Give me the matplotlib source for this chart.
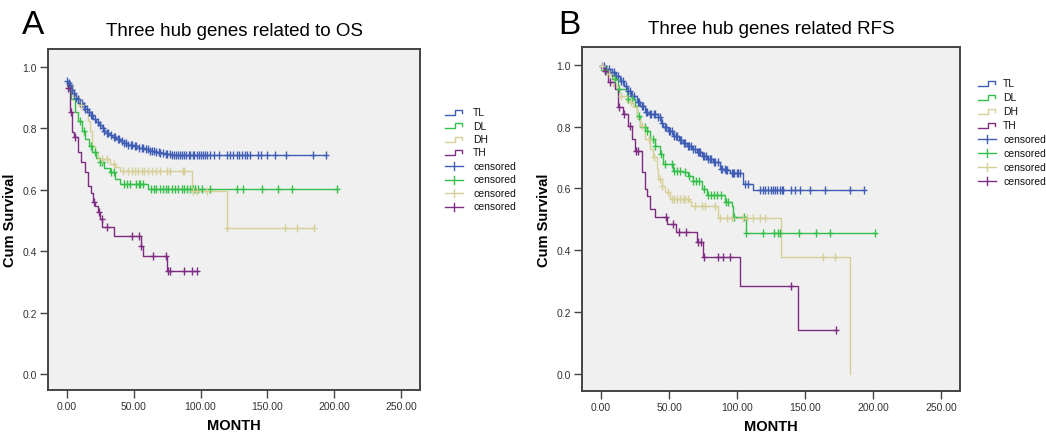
import numpy as np
import matplotlib
matplotlib.use("Agg")
import matplotlib.pyplot as plt
from matplotlib.lines import Line2D
from matplotlib.ticker import FormatStrFormatter

plt.rcParams['font.family'] = ['Liberation Sans', 'DejaVu Sans']

groups = ["TL", "DL", "DH", "TH"]
colors = {"TL": "#3f5db5", "DL": "#34bf48", "DH": "#d6cf98", "TH": "#7e2c82"}

# ---------------- Panel A: OS ----------------
os_TL_t = [0, 1, 2, 3, 4, 5, 6, 7, 8, 9, 10, 12, 14, 16, 18, 20, 22, 24, 26, 28, 30, 32, 34, 37, 40, 43, 46, 50, 54, 58, 62, 66, 70, 74, 78]
os_TL_s = [.955, .948, .94, .932, .924, .916, .908, .9, .894, .888, .882, .872, .862, .853, .842, .83, .82, .81, .8, .792, .785, .778, .772, .764, .757, .752, .747, .742, .737, .732, .727, .723, .72, .716, .712]
os_TL_end = 194
os_TL_c = [0.5, 1.5, 2.5, 4, 5.5, 7, 8.5, 10, 11.5, 13, 14, 15, 17, 18, 19, 21, 23, 25, 27, 28, 30, 31, 33, 35, 36, 38, 39, 41, 43, 44, 46, 48, 49, 51, 52, 54, 56, 57, 59, 61, 62, 64, 65, 67, 69, 70, 72, 74, 75, 77, 79, 80, 82, 83, 85, 86, 88, 89, 91, 92, 94, 95, 97, 99, 100, 102, 103, 105, 107, 110, 114, 120, 122, 124, 127, 129, 131, 133, 135, 137, 143, 145, 150, 156, 164, 184, 194]

os_DL_t = [0, 1.5, 3.5, 6, 8.5, 11.5, 14, 16.5, 19, 22, 25, 28, 32, 36, 40, 61]
os_DL_s = [.937, .925, .896, .853, .825, .79, .765, .743, .722, .703, .69, .672, .657, .635, .619, .601]
os_DL_end = 202
os_DL_c = [10, 13, 18, 21, 25, 26, 33, 35, 43, 45, 47, 52, 54, 55, 57, 63, 65, 67, 70, 72, 74, 76, 79, 81, 83, 86, 88, 90, 92, 94, 96, 98, 101, 107, 127, 132, 146, 158, 168, 202]

os_DH_t = [0, 4.5, 9, 13, 16, 17.5, 19, 21, 23, 32, 36, 40, 93.5, 119.5]
os_DH_s = [.94, .906, .875, .857, .824, .79, .743, .723, .70, .684, .674, .660, .595, .476]
os_DH_end = 185
os_DH_c = [11, 26, 30, 35, 42, 46, 49, 51, 53, 56, 58, 61, 64, 67, 70, 75, 77, 87, 88, 94, 97, 105, 120, 163, 172, 185]

os_TH_t = [0, 2.5, 3.7, 5.2, 8.5, 11, 13.5, 16, 18, 19.8, 21, 23.5, 25, 26.5, 35, 55.5, 57, 75]
os_TH_s = [.93, .852, .788, .77, .722, .69, .657, .613, .59, .56, .548, .527, .505, .478, .45, .418, .385, .336]
os_TH_end = 97
os_TH_c = [1, 3.5, 6, 20.5, 24, 26, 30, 48.5, 54, 55.8, 64.5, 74, 75.5, 77, 87.5, 93.5, 97]

# ---------------- Panel B: RFS ----------------
rfs_TL_t = [0, 3, 6.6, 10, 14, 17, 19, 22, 26.5, 29, 32.5, 35, 42, 44, 45.8, 49, 53, 57, 60, 63, 67, 70.6, 74, 78, 82.5, 87.5, 92, 95, 104.6, 112]
rfs_TL_s = [.997, .985, .976, .962, .947, .93, .915, .897, .879, .865, .847, .84, .83, .812, .798, .785, .77, .757, .747, .737, .728, .718, .706, .695, .685, .663, .658, .651, .614, .595]
rfs_TL_end = 193.5
rfs_TL_c = [1, 2.5, 4, 5.5, 8, 9.5, 11, 12.5, 15, 16, 18, 20, 21, 23, 24.5, 27, 28, 30, 31, 33, 34, 36, 37, 39, 40, 42, 43, 45, 47, 48, 50, 51, 52, 54, 55, 56, 58, 59, 61, 62, 64, 65, 66, 68, 69, 71, 72, 73, 75, 76, 77, 79, 80, 81, 83, 84, 86, 88, 89, 91, 92, 93, 96, 97, 98, 100, 101, 102, 106, 108, 117, 119, 120.6, 123, 125, 126.5, 128, 129.4, 131.6, 133, 134, 140, 142.6, 146, 153.7, 164.7, 183, 193.5]

rfs_DL_t = [0, 4, 8, 12.5, 19, 25, 26.5, 28.7, 33.5, 36, 39.7, 43.4, 45.6, 53, 60, 64, 67.6, 74, 78, 91, 96, 97, 106.4]
rfs_DL_s = [.983, .97, .954, .921, .889, .867, .834, .798, .786, .76, .737, .711, .679, .656, .653, .64, .624, .598, .578, .556, .543, .507, .457]
rfs_DL_end = 201.5
rfs_DL_c = [3, 10, 13, 20, 23, 28, 32, 34, 38, 40, 44, 47, 52, 54, 56, 58, 62, 65, 68, 70, 72, 76, 79, 81, 83, 85, 88, 92, 93.5, 97.5, 105, 106.4, 119, 127, 130, 131.6, 145.6, 158, 168.4, 201.5]

rfs_DH_t = [0, 4.4, 9, 12.5, 19, 23.5, 26.5, 28.7, 32.5, 36, 38, 41, 42, 44.5, 47, 50.7, 65, 66.5, 86, 132, 183]
rfs_DH_s = [.997, .97, .932, .9, .879, .863, .824, .802, .76, .727, .70, .663, .63, .608, .588, .566, .56, .544, .503, .378, 0.0]
rfs_DH_end = 183
rfs_DH_c = [1, 6, 15, 22, 30, 35, 39, 43, 45, 49, 52, 54, 56, 58, 60, 62, 64, 69, 74, 76.5, 84, 87.5, 92.6, 96, 104.6, 107, 112, 117, 120.6, 163, 172]

rfs_TH_t = [0, 1.5, 5, 10, 12.5, 16, 20, 23, 25, 30, 32.5, 33.8, 36, 39.7, 48.5, 55, 70.6, 75, 102, 145]
rfs_TH_s = [.99, .98, .943, .92, .862, .841, .803, .76, .72, .652, .597, .576, .533, .507, .485, .459, .426, .378, .284, .142]
rfs_TH_end = 172.8
rfs_TH_c = [3, 6.6, 13, 17, 21, 26, 27, 48, 53, 57.6, 62.5, 71, 73.5, 76, 86, 90, 95, 140, 172.8]

os_data = {
    "TL": (os_TL_t, os_TL_s, os_TL_end, os_TL_c),
    "DL": (os_DL_t, os_DL_s, os_DL_end, os_DL_c),
    "DH": (os_DH_t, os_DH_s, os_DH_end, os_DH_c),
    "TH": (os_TH_t, os_TH_s, os_TH_end, os_TH_c),
}
rfs_data = {
    "TL": (rfs_TL_t, rfs_TL_s, rfs_TL_end, rfs_TL_c),
    "DL": (rfs_DL_t, rfs_DL_s, rfs_DL_end, rfs_DL_c),
    "DH": (rfs_DH_t, rfs_DH_s, rfs_DH_end, rfs_DH_c),
    "TH": (rfs_TH_t, rfs_TH_s, rfs_TH_end, rfs_TH_c),
}

x_ticks = [0, 50, 100, 150, 200, 250]
y_ticks = [0.0, 0.2, 0.4, 0.6, 0.8, 1.0]

W, H = 1046, 435
fig = plt.figure(figsize=(W / 100, H / 100), dpi=100)


def px_axes(x0, y0, x1, y1):
    return fig.add_axes([x0 / W, 1 - y1 / H, (x1 - x0) / W, (y1 - y0) / H])


def draw_panel(ax, data):
    ax.set_facecolor("#f0f0f0")
    for g in groups:
        t, s, end, cens = data[g]
        t = np.asarray(t, float)
        s = np.asarray(s, float)
        tt = np.append(t, end)
        ss = np.append(s, s[-1])
        ax.step(tt, ss, where="post", color=colors[g], lw=1.0, zorder=3)
        c = np.asarray(cens, float)
        idx = np.searchsorted(t, c, side="right") - 1
        ax.plot(c, s[idx], ls="none", marker="|", ms=6, mew=1.0,
                color=colors[g], zorder=4)
        ax.plot(c, s[idx], ls="none", marker="_", ms=4, mew=1.0,
                color=colors[g], zorder=4)
    ax.set_xlim(-14, 264)
    ax.set_xticks(x_ticks)
    ax.set_yticks(y_ticks)
    ax.xaxis.set_major_formatter(FormatStrFormatter("%.2f"))
    ax.yaxis.set_major_formatter(FormatStrFormatter("%.1f"))
    ax.tick_params(direction="out", length=5.5, width=1, color="#444444",
                   labelsize=7.5, labelcolor="#333333", pad=2.5)
    for sp in ax.spines.values():
        sp.set_color("#444444")
        sp.set_linewidth(1.4)
    ax.set_xlabel("MONTH", fontsize=10.5, fontweight="bold", labelpad=5)
    ax.set_ylabel("Cum Survival", fontsize=10.5, fontweight="bold", labelpad=4)


def draw_legend(x_line, x_text, y_first, dy):
    tf = fig.transFigure
    labels = groups + ["censored"] * 4
    for i, lab in enumerate(labels):
        y = y_first + i * dy
        col = colors[groups[i % 4]]
        if i < 4:
            xs = [x_line, x_line + 10, x_line + 10, x_line + 17, x_line + 17]
            ys = [y + 2.5, y + 2.5, y - 2.5, y - 2.5, y + 0.5]
        else:
            xs = [x_line, x_line + 18]
            ys = [y, y]
            fig.add_artist(Line2D([(x_line + 9) / W] * 2,
                                  [1 - (y - 4) / H, 1 - (y + 4) / H],
                                  transform=tf, color=col, lw=1.0))
        fig.add_artist(Line2D([v / W for v in xs], [1 - v / H for v in ys],
                              transform=tf, color=col, lw=1.0))
        fig.text(x_text / W, 1 - y / H, lab, fontsize=7.5, va="center",
                 ha="left", color="#111111")


axA = px_axes(48, 50, 420, 391)
axA.set_ylim(-0.052, 1.058)
draw_panel(axA, os_data)
axA.set_title("Three hub genes related to OS", fontsize=13.5, pad=10)
fig.text(22 / W, 1 - 26 / H, "A", fontsize=24, va="center", ha="left")
draw_legend(445, 473, 113, 13.5)

axB = px_axes(582, 48, 960, 392)
axB.set_ylim(-0.055, 1.057)
draw_panel(axB, rfs_data)
axB.set_title("Three hub genes related RFS", fontsize=13.5, pad=10)
fig.text(558 / W, 1 - 26 / H, "B", fontsize=24, va="center", ha="left")
draw_legend(978, 1003, 84, 14)

fig.savefig("out.png", dpi=100, facecolor="white")
